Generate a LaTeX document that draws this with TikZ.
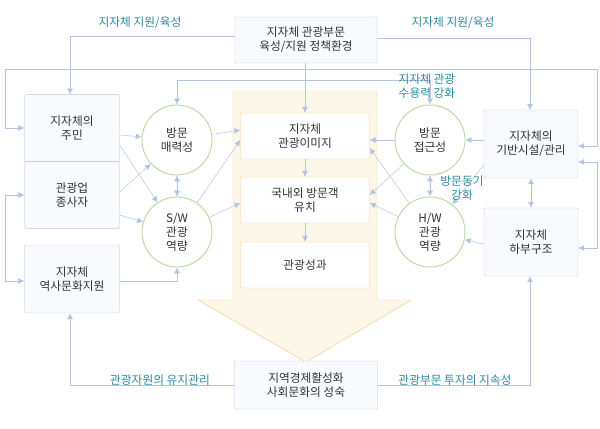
\documentclass[tikz,border=0pt]{standalone}
\usepackage{fontspec}
\setmainfont{Noto Sans CJK KR}
\usetikzlibrary{arrows.meta,positioning}

\definecolor{lineblue}{HTML}{B4C4E0}
\definecolor{boxedge}{HTML}{B8C8E2}
\definecolor{boxfill}{HTML}{F8FAFE}
\definecolor{labelteal}{HTML}{2A8A9C}
\definecolor{circedge}{HTML}{BCDAA4}
\definecolor{orangeedge}{HTML}{F8CC88}
\definecolor{orangefill}{HTML}{FDF7EA}

\tikzset{
  box/.style={draw=boxedge, fill=boxfill, rounded corners=1pt, align=center,
    inner sep=0pt, font=\normalsize, text=black!80},
  ibox/.style={draw=orangeedge, fill=white, rounded corners=1pt, align=center,
    inner sep=0pt, font=\normalsize, text=black!80,
    minimum width=3.87cm, minimum height=1.38cm},
  circ/.style={circle, draw=circedge, thick, fill=white, align=center,
    minimum size=2.1cm, inner sep=0pt, font=\normalsize, text=black!80},
  link/.style={draw=lineblue, -{Latex[length=5pt,width=5pt]}},
  both/.style={draw=lineblue, {Latex[length=5pt,width=5pt]}-{Latex[length=5pt,width=5pt]}},
  lbl/.style={text=labelteal, font=\normalsize, align=center}
}

\begin{document}
\begin{tikzpicture}[x=0.03cm, y=-0.03cm]
  \useasboundingbox (0,0) rectangle (600,428);
  % big arrow
  \filldraw[draw=orangeedge, fill=orangefill] (233,91) -- (377,91) -- (377,300)
    -- (411,300) -- (306,362) -- (198,300) -- (233,300) -- cycle;

  % boxes
  \node[box, minimum width=4.26cm, minimum height=1.38cm] (policy) at (306,40)
    {지자체 관광부문\\육성/지원 정책환경};
  \node[box, minimum width=2.85cm, minimum height=2.0cm] (resident) at (72,128) {지자체의\\주민};
  \node[box, minimum width=2.85cm, minimum height=2.0cm] (worker) at (72,195) {관광업\\종사자};
  \node[box, minimum width=2.85cm, minimum height=2.04cm] (heritage) at (72,279) {지자체\\역사문화지원};
  \node[box, minimum width=2.82cm, minimum height=2.04cm] (infra) at (531,144) {지자체의\\기반시설/관리};
  \node[box, minimum width=2.82cm, minimum height=2.04cm] (base) at (531,242) {지자체\\하부구조};
  \node[box, minimum width=4.29cm, minimum height=1.44cm] (economy) at (306,385)
    {지역경제활성화\\사회문화의 성숙};

  \node[ibox] (image) at (305,136) {지자체\\관광이미지};
  \node[ibox] (visitor) at (305,200) {국내외 방문객\\유치};
  \node[ibox] (result) at (305,265) {관광성과};

  \node[circ] (attract) at (177,140) {방문\\매력성};
  \node[circ] (software) at (177,232) {S/W\\관광\\역량};
  \node[circ] (access) at (430,140) {방문\\접근성};
  \node[circ] (hardware) at (430,232) {H/W\\관광\\역량};

  % policy links
  \draw[link] (policy.west |- 0,36) -| (resident.north -| 70,0);
  \draw[link] (policy.east |- 0,38) -| (infra.north -| 530,0);
  \draw[link] (policy.south -| 305,0) -- (image.north -| 305,0);
  \draw[link] (5,69) -- (597,69) |- (infra.east |- 0,146);
  \draw[link] (5,69) |- (resident.west |- 0,128);
  \draw[link] (177,80) -- (430,80) -- (access.north);
  \draw[link] (177,80) -- (attract.north);
  \node[lbl] at (140,23) {지자체 지원/육성};
  \node[lbl] at (453,23) {지자체 지원/육성};
  \node[lbl] at (427,86) {지자체 관광\\수용력 강화};

  % left side
  \draw[both] (worker.west |- 0,195) -- (5,195) -- (5,281) -- (heritage.west |- 0,281);
  \draw[link] (resident.east |- 0,135) -- (attract);
  \draw[link] (resident.east |- 0,145) -- (software);
  \draw[link] (worker.east |- 0,192) -- (attract);
  \draw[link] (worker.east |- 0,215) -- (software);
  \draw[link] (heritage.east |- 0,281) -| (software.south);
  \draw[both] (attract) -- (software);
  \draw[link] (attract) -- (image.west |- 0,130);
  \draw[link] (software) -- (image.west |- 0,140);
  \draw[link] (software) -- (visitor.west |- 0,203);

  % middle
  \draw[link] (image) -- (visitor);
  \draw[link] (visitor) -- (result);

  % right side
  \draw[both] (infra.east |- 0,162) -- (597,162) -- (597,248) -- (base.east |- 0,248);
  \draw[link] (infra.west |- 0,140) -- (access);
  \draw[link] (base.west |- 0,244) -- (hardware);
  \draw[link] (infra.west |- 0,165) -- (hardware);
  \draw[both] (infra) -- (base);
  \draw[both] (access) -- (hardware);
  \draw[link] (access) -- (image.east |- 0,140);
  \draw[link] (access) -- (visitor.east |- 0,195);
  \draw[link] (hardware) -- (image.east |- 0,148);
  \draw[link] (hardware) -- (visitor.east |- 0,203);
  \node[lbl] at (462,188) {방문동기\\강화};

  % bottom
  \draw[link] (economy.west) -| (heritage.south -| 70,0);
  \draw[link] (economy.east) -| (base.south -| 530,0);
  \node[lbl] at (160,380) {관광자원의 유지관리};
  \node[lbl] at (455,380) {관광부문 투자의 지속성};
\end{tikzpicture}
\end{document}
